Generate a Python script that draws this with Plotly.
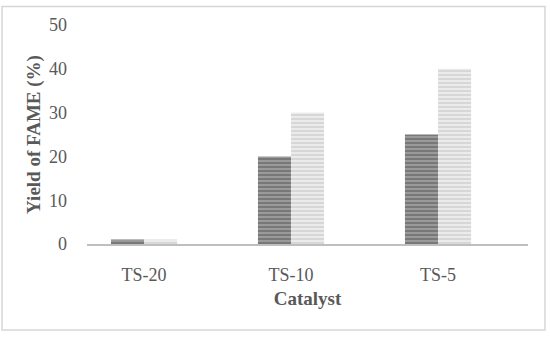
import plotly.graph_objects as go

categories = ["TS-20", "TS-10", "TS-5"]
series_a = [1, 20, 25]
series_b = [1, 30, 40]
y_ticks = [0, 10, 20, 30, 40, 50]

FONT = "Liberation Serif"
fig = go.Figure()
fig.add_trace(go.Bar(
    x=categories, y=series_a, name="A",
    marker=dict(color="#8c8c8c", line=dict(width=0),
                pattern=dict(shape="-", fgcolor="#555555", bgcolor="#9a9a9a", size=4, solidity=0.5)),
))
fig.add_trace(go.Bar(
    x=categories, y=series_b, name="B",
    marker=dict(color="#d4d4d4", line=dict(width=0),
                pattern=dict(shape="-", fgcolor="#c4c4c4", bgcolor="#ebebeb", size=4, solidity=0.5)),
))

fig.update_layout(
    width=550, height=338,
    margin=dict(l=87, r=22, t=25, b=94),
    barmode="group", bargap=0.55, bargroupgap=0,
    plot_bgcolor="white", paper_bgcolor="white",
    showlegend=False,
    font=dict(family=FONT, color="#595959", size=18),
    xaxis=dict(
        showgrid=False, showline=True, linecolor="#bfbfbf", linewidth=2,
        ticks="", ticklabelstandoff=13, tickfont=dict(size=18, color="#595959"),
        title=dict(text="<b>Catalyst</b>", font=dict(size=19, color="#595959"), standoff=8),
        range=[-0.388, 2.612], automargin=False,
    ),
    yaxis=dict(
        range=[0, 50], tickvals=y_ticks, showgrid=False, zeroline=False,
        showline=False, ticks="", ticklabelstandoff=19,
        tickfont=dict(size=18, color="#595959"),
        title=dict(text="<b>Yield of FAME (%)</b>", font=dict(size=19, color="#595959"), standoff=3),
        automargin=False,
    ),
    shapes=[dict(type="rect", xref="paper", yref="paper",
                 x0=-0.1927, x1=1.0385, y0=-0.3927, y1=1.0845,
                 line=dict(color="#d6d6d6", width=1.5), fillcolor="rgba(0,0,0,0)", layer="below")],
)
fig.write_html("out.html", config={"displayModeBar": False},
               post_script="document.body.style.margin='0';")
